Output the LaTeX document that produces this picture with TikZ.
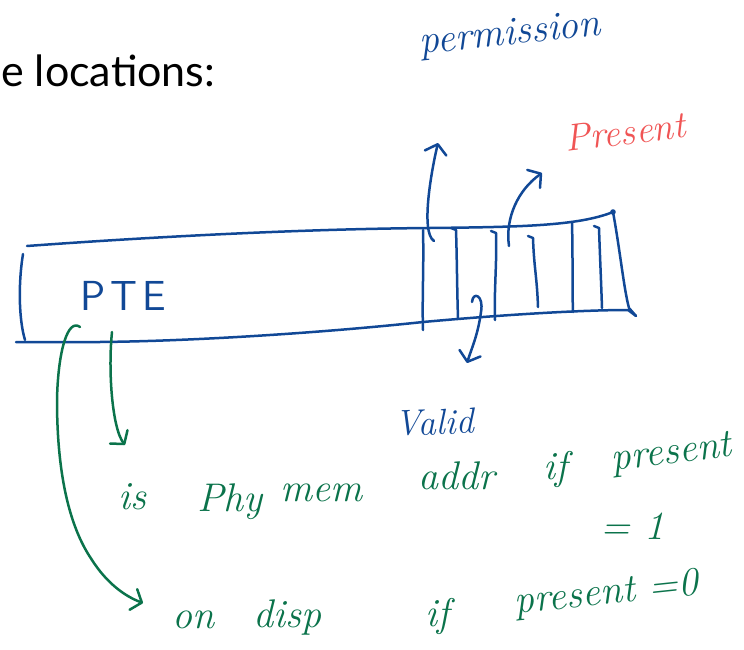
\documentclass[tikz,border=0pt]{standalone}
\usepackage{fontspec}
\usepackage{xcolor}
\usepackage{tikz}
\usetikzlibrary{arrows.meta}

\newfontfamily\slidefont{Lato}

\definecolor{penblue}{HTML}{114896}
\definecolor{pengreen}{HTML}{0B734B}
\definecolor{penred}{HTML}{F05555}

\begin{document}
\begin{tikzpicture}[
        x=1pt, y=-1pt,
        ink/.style={
            line width=2.5pt,
            line cap=round,
            line join=round
        },
        arrow/.style={
            ink,
            -{Straight Barb[length=9pt,width=22pt,round]}
        },
        hand/.style={
            inner sep=0pt,
            anchor=base west,
            font=\itshape\fontsize{40}{40}\selectfont
        },
        slide/.style={
            inner sep=0pt,
            anchor=base west,
            font=\slidefont\fontsize{43}{43}\selectfont
        }
    ]

    \useasboundingbox (0,0) rectangle (744,650);

    % Slide title

    \node[slide] (title) at (1,87) {e locations:};

    % PTE box

    \draw[ink, penblue] (27,246) .. controls (150,237) and (300,229) .. (430,228)
        .. controls (520,227) and (578,226) .. (613,212);
    \draw[ink, penblue] (16,342) -- (100,342)
        .. controls (200,341) and (330,332) .. (423,322)
        .. controls (500,315) and (580,310) .. (628,310) -- (636,316);
    \draw[ink, penblue] (23,254) .. controls (18,285) and (19,320) .. (25,340);
    \draw[ink, penblue] (613,212) .. controls (620,250) and (624,290) .. (629,308)
        -- (636,316);
    \fill[penblue] (613,212) circle[radius=2.8pt];

    % Flag bits

    \foreach \xt/\yt/\xb/\yb/\h in {423/232/423/330/0, 456/230/458/318/5,
        496/233/495/320/5, 533/238/538/307/5, 572/225/573/312/0,
        599/228/602/308/5}
        \draw[ink, penblue] (\xt-\h,\yt-2) -- (\xt,\yt)
            .. controls (\xt+1,\yt+30) and (\xb-1,\yb-30) .. (\xb,\yb);

    \node[penblue, inner sep=0pt, anchor=base west,
        font=\sffamily\fontsize{42}{42}\selectfont] (pte) at (80,310)
    {P\kern5pt T\kern5pt E};

    % Labels of the bits

    \node[hand, penblue, rotate=6] (permission) at (420,54) {permission};

    \node[hand, penred, font=\itshape\fontsize{38}{38}\selectfont, rotate=7]
    (present) at (566,152) {Present};

    \node[hand, penblue, font=\itshape\fontsize{36}{36}\selectfont, rotate=2]
    (valid) at (395,436) {Valid};

    \coordinate (permfoot) at (434,241);
    \coordinate (permtip) at (438,143);
    \coordinate (presfoot) at (509,246);
    \coordinate (prestip) at (542,173);
    \coordinate (validfoot) at (472,302);
    \coordinate (validtip) at (467,363);

    \draw[arrow, penblue] (permfoot) .. controls (420,232) and (432,168) .. (permtip);
    \draw[arrow, penblue] (presfoot) .. controls (505,218) and (518,190) .. (prestip);
    \draw[arrow, penblue] (validfoot) .. controls (473,291) and (484,295) .. (481,312)
        .. controls (478,335) and (471,350) .. (validtip);

    % Address field

    \node[hand, pengreen] (is) at (118,509) {is};
    \node[hand, pengreen] (phy) at (197,511) {Phy};
    \node[hand, pengreen] (mem) at (280,501) {mem};
    \node[hand, pengreen] (addr) at (418,489) {addr};
    \node[hand, pengreen] (if1) at (543,479) {if};
    \node[hand, pengreen, rotate=7] (present1) at (612,471) {present};
    \node[hand, pengreen] (eqone) at (600,539) {= 1};

    \node[hand, pengreen] (on) at (172,628) {on};
    \node[hand, pengreen] (disp) at (253,627) {disp};
    \node[hand, pengreen] (if0) at (425,626) {if};
    \node[hand, pengreen, rotate=6] (present0) at (515,614) {present =0};

    \coordinate (physfoot) at (112,332);
    \coordinate (phystip) at (125,445);
    \coordinate (diskfoot) at (80,327);
    \coordinate (disktip) at (143,603);

    \draw[arrow, pengreen] (physfoot) .. controls (108,370) and (112,428) .. (phystip);
    \draw[arrow, pengreen] (diskfoot) .. controls (68,318) and (58,350) .. (57,400)
        .. controls (57,470) and (68,525) .. (92,560)
        .. controls (106,582) and (124,596) .. (disktip);

\end{tikzpicture}
\end{document}
